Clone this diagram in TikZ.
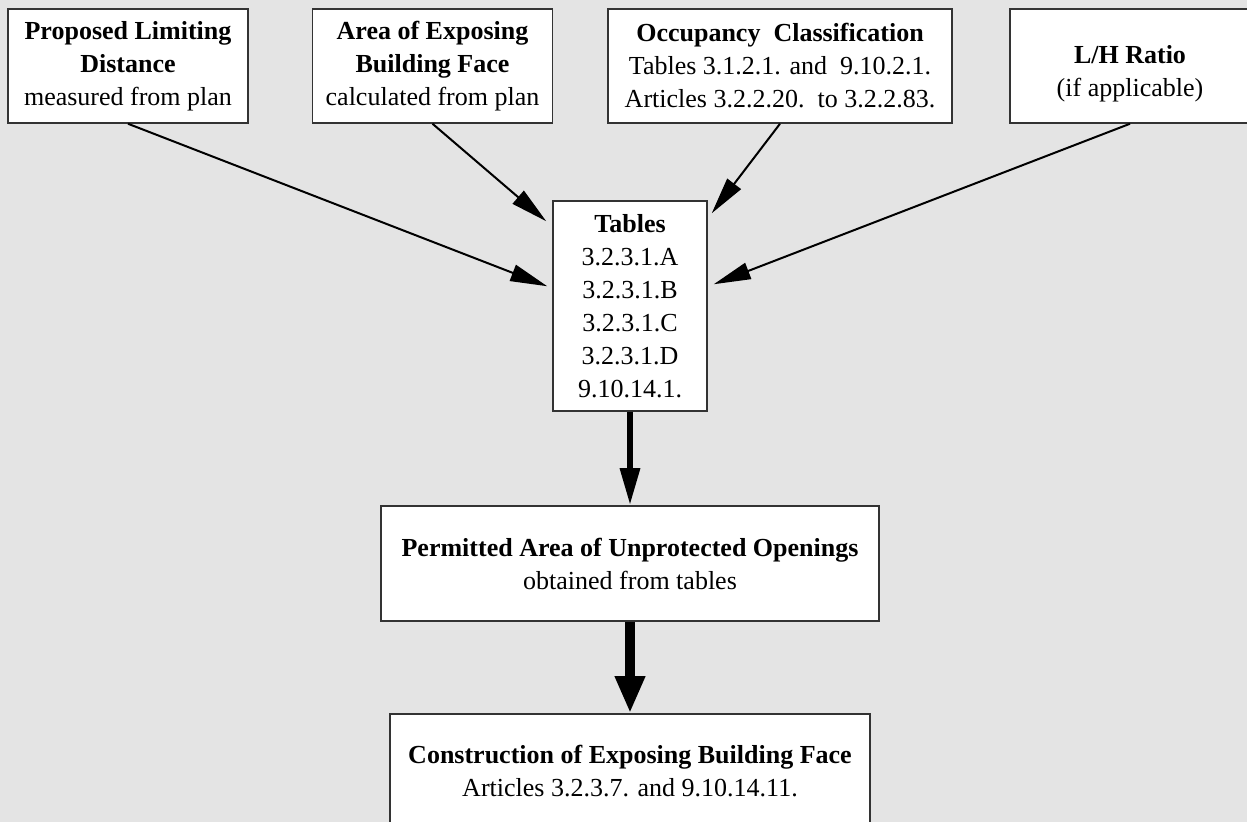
\documentclass[tikz,border=0pt]{standalone}
\usepackage{fontspec}
\setmainfont{Liberation Serif}
\usetikzlibrary{arrows.meta}
\definecolor{bgGray}{HTML}{E4E4E4}
\tikzset{
  box/.style={draw=black!80, line width=0.75pt, fill=white, align=center,
    inner sep=0pt, font=\fontsize{13}{16.5}\selectfont},
  topbox/.style={box, minimum width=120pt, minimum height=57pt},
  flow/.style={line width=1pt, -{Triangle[length=18.5pt,width=8.5pt]}},
}
\begin{document}
\begin{tikzpicture}[x=0.5pt,y=-0.5pt]
      \useasboundingbox (0,0) rectangle (1247,822);
      \clip (0,0) rectangle (1247,822);
      \fill[bgGray] (0,0) rectangle (1247,822);
      \draw
        (128,66) node[topbox] (pld){\textbf{Proposed Limiting}\\\textbf{Distance}\\measured from plan}
        (432.5,66) node[topbox] (area){\textbf{Area of Exposing}\\\textbf{Building Face}\\calculated from plan}
        (780,66) node[topbox, minimum width=172pt] (occ){\textbf{Occupancy\ \ Classification}\\Tables 3.1.2.1. and\ \ 9.10.2.1.\\Articles 3.2.2.20.\ \ to 3.2.2.83.}
        (1130,66) node[topbox] (lh){\rule{0pt}{17pt}\textbf{L/H Ratio}\\(if applicable)}
        (630,306) node[box, minimum width=77pt, minimum height=105pt] (tables){\textbf{Tables}\\3.2.3.1.A\\3.2.3.1.B\\3.2.3.1.C\\3.2.3.1.D\\9.10.14.1.}
        (630,563.5) node[box, minimum width=249pt, minimum height=57.5pt] (perm){\textbf{Permitted Area of Unprotected Openings}\\obtained from tables}
        (630,771) node[box, minimum width=240pt, minimum height=57pt] (cons){\textbf{Construction of Exposing Building Face}\\Articles 3.2.3.7. and 9.10.14.11.};
      \begin{scope}[flow]
        \draw (pld.south) to ([shift={(-5,86)}]tables.north west);
        \draw (area.south) to ([shift={(-6,21)}]tables.north west);
        \draw (occ.south) to ([shift={(4,13)}]tables.north east);
        \draw (lh.south) to ([shift={(6,84)}]tables.north east);
        \draw[line width=3pt, -{Triangle[length=18.5pt,width=9.5pt]}] (tables) to (perm);
        \draw[line width=5pt, -{Triangle[length=18.5pt,width=14pt]}] (perm) to (cons);
      \end{scope}
    \end{tikzpicture}
\end{document}
